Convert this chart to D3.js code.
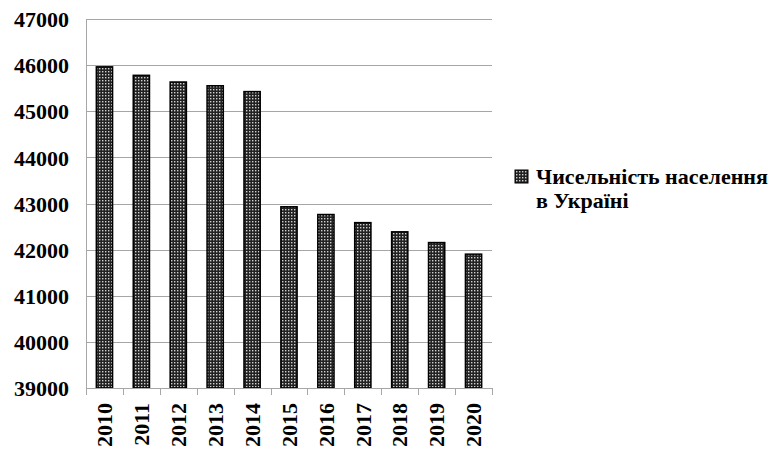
<!DOCTYPE html>
<html>
<head>
<meta charset="utf-8">
<script src="https://cdn.jsdelivr.net/npm/d3@7"></script>
<style>
  body { margin: 0; background: #fff; }
</style>
</head>
<body>
<svg id="chart" width="772" height="450"></svg>
<script>
// Data
const years = ["2010", "2011", "2012", "2013", "2014", "2015", "2016", "2017", "2018", "2019", "2020"];
const population = [45963, 45779, 45634, 45553, 45426, 42929, 42761, 42585, 42386, 42153, 41902];
const yTicks = [39000, 40000, 41000, 42000, 43000, 44000, 45000, 46000, 47000];
const seriesName = ["Чисельність населення", "в Україні"];

const FONT = "'Liberation Serif', 'Times New Roman', serif";

const svg = d3.select("#chart");
const margin = { top: 19, left: 86, right: 280, bottom: 62 };
const width = 772 - margin.left - margin.right;
const height = 450 - margin.top - margin.bottom;

// dotted fill like the original
const defs = svg.append("defs");
const pat = defs.append("pattern")
  .attr("id", "dots")
  .attr("patternUnits", "userSpaceOnUse")
  .attr("width", 3).attr("height", 3);
pat.append("rect").attr("width", 3).attr("height", 3).attr("fill", "#222");
pat.append("rect").attr("x", 1).attr("y", 1).attr("width", 1.4).attr("height", 1.4).attr("fill", "#cfcfcf");

const g = svg.append("g").attr("transform", "translate(" + margin.left + "," + margin.top + ")");

const x = d3.scaleBand().domain(years).range([0, width]).paddingInner(0.56).paddingOuter(0.28);
const y = d3.scaleLinear().domain([39000, 47000]).range([height, 0]);

// gridlines
g.append("g")
  .selectAll("line")
  .data(yTicks)
  .enter().append("line")
  .attr("x1", 0).attr("x2", width)
  .attr("y1", d => Math.round(y(d)) + 0.5)
  .attr("y2", d => Math.round(y(d)) + 0.5)
  .attr("stroke", "#a6a6a6");

// y axis
const yAxis = g.append("g")
  .call(d3.axisLeft(y).tickValues(yTicks).tickSize(0).tickPadding(17).tickFormat(d3.format("d")));
yAxis.attr("font-family", null).attr("font-size", null);
yAxis.select(".domain").attr("stroke", "#a6a6a6");
yAxis.selectAll("text")
  .style("font-family", FONT).style("font-weight", "bold").style("font-size", "22px")
  .attr("fill", "#000").attr("dy", "0.35em");

// bars
g.append("g")
  .selectAll("rect")
  .data(years.map((yr, i) => ({ year: yr, value: population[i] })))
  .enter().append("rect")
  .attr("x", d => x(d.year))
  .attr("y", d => y(d.value))
  .attr("width", x.bandwidth())
  .attr("height", d => height - y(d.value))
  .attr("fill", "url(#dots)")
  .attr("stroke", "#000")
  .attr("stroke-width", 1.5);

// x axis
const xg = g.append("g").attr("transform", "translate(0," + height + ")");
xg.append("line").attr("x1", 0).attr("x2", width).attr("y1", 0.5).attr("y2", 0.5).attr("stroke", "#a6a6a6");
xg.selectAll("line.tick")
  .data(d3.range(years.length + 1))
  .enter().append("line")
  .attr("class", "tick")
  .attr("x1", i => Math.round(i * width / years.length) + 0.5)
  .attr("x2", i => Math.round(i * width / years.length) + 0.5)
  .attr("y1", 0).attr("y2", 7)
  .attr("stroke", "#a6a6a6");
xg.selectAll("text")
  .data(years)
  .enter().append("text")
  .attr("transform", d => "translate(" + (x(d) + x.bandwidth() / 2) + ",15) rotate(-90)")
  .attr("text-anchor", "end")
  .attr("dy", "0.35em")
  .style("font-family", FONT).style("font-weight", "bold").style("font-size", "22px")
  .text(d => d);

// legend
const lg = svg.append("g").attr("transform", "translate(515,170)");
lg.append("rect").attr("width", 13).attr("height", 13)
  .attr("fill", "url(#dots)").attr("stroke", "#000").attr("stroke-width", 1);
lg.selectAll("text")
  .data(seriesName)
  .enter().append("text")
  .attr("x", 21)
  .attr("y", (d, i) => 14 + i * 24)
  .style("font-family", FONT).style("font-weight", "bold").style("font-size", "22px")
  .text(d => d);
</script>
</body>
</html>
